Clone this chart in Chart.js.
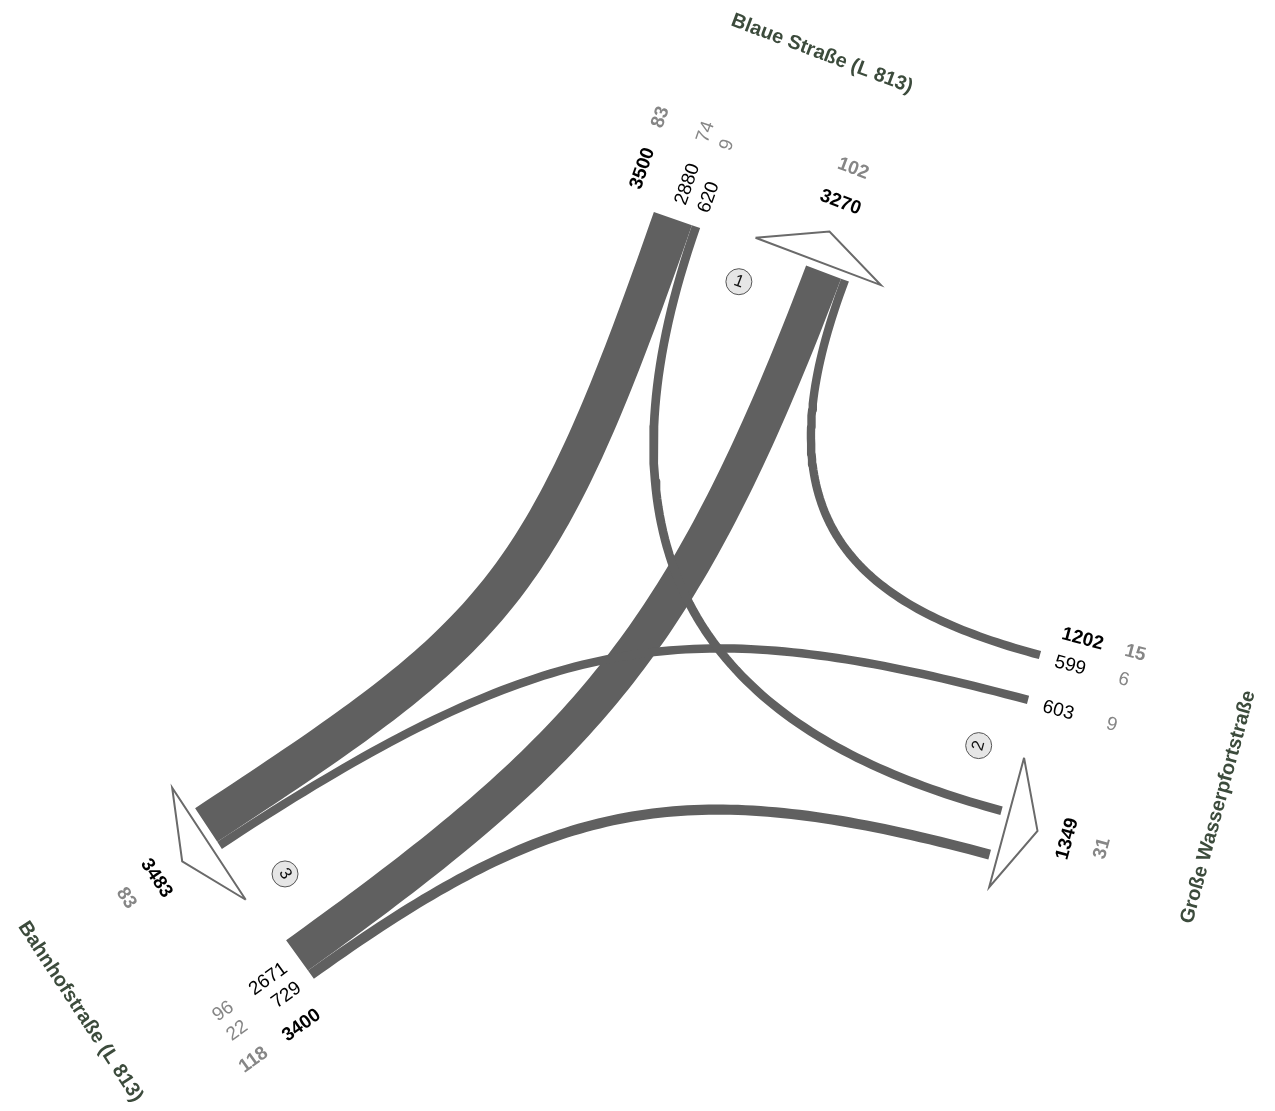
<!DOCTYPE html>
<html>
<head>
<meta charset="utf-8">
<script src="https://cdn.jsdelivr.net/npm/chart.js@4.4.0/dist/chart.umd.min.js"></script>
<style>
  html, body { margin: 0; padding: 0; background: #fff; }
  canvas { display: block; }
</style>
</head>
<body>
<canvas id="chart" width="1275" height="1111"></canvas>
<script>
/* global Chart */

// arms of the junction
var armNames = ['Blaue Straße (L 813)', 'Große Wasserpfortstraße', 'Bahnhofstraße (L 813)']
var armNumbers = ['1', '2', '3']

// turning flows: from arm, to arm, all vehicles, heavy vehicles
var flowFrom = [0, 0, 1, 1, 2, 2]
var flowTo = [2, 1, 0, 2, 1, 0]
var flowCars = [2880, 620, 599, 603, 729, 2671]
var flowHeavy = [74, 9, 6, 9, 22, 96]

// layout: where each arm's entry / exit stack sits and which way it points (degrees, screen coords)
var k = 0.014 // px per vehicle
var armLayout = [
  { inX: 677, inY: 220, inAngle: -70.75, inGap: 0, outX: 827.5, outY: 273.5, outAngle: -69.3, outGap: 0, nameOut: 205 },
  { inX: 1034, inY: 677.5, inAngle: 14.9, inGap: 38, outX: 995.5, outY: 833, outAngle: 15.1, outGap: 36, nameOut: 210 },
  { inX: 300, inY: 959.5, inAngle: 144.3, inGap: 0, outX: 208.5, outY: 828.5, outAngle: 146.7, outGap: 0, nameOut: 210 }
]
// control lengths of each ribbon (start, end)
var bend = [[400, 350], [400, 250], [200, 250], [350, 400], [300, 320], [350, 400]]

var flowColor = '#606060'
var greyText = '#868686'
var nameColor = '#3c4b3c'

function frame (x, y, deg) {
  var r = deg * Math.PI / 180
  var n = { x: Math.cos(r), y: Math.sin(r) }
  return { x: x, y: y, n: n, u: { x: -n.y, y: n.x }, deg: deg }
}
function at (f, along, out) {
  return { x: f.x + f.u.x * along + f.n.x * out, y: f.y + f.u.y * along + f.n.y * out }
}
// the arm "two steps round" comes first in every stack
function rank (a, b) { return (b - a + 3) % 3 === 2 ? 0 : 1 }
function stack (flows, gap) {
  var widths = flows.map(function (i) { return flowCars[i] * k })
  var total = widths.reduce(function (s, w) { return s + w }, 0) + gap * (flows.length - 1)
  var pos = -total / 2
  var res = {}
  flows.forEach(function (i, j) { res[i] = pos + widths[j] / 2; pos += widths[j] + gap })
  return res
}

var idx = flowCars.map(function (v, i) { return i })
var arms = armLayout.map(function (l, a) {
  var ins = idx.filter(function (i) { return flowFrom[i] === a }).sort(function (i, j) { return rank(a, flowTo[i]) - rank(a, flowTo[j]) })
  var outs = idx.filter(function (i) { return flowTo[i] === a }).sort(function (i, j) { return rank(a, flowFrom[i]) - rank(a, flowFrom[j]) })
  return {
    inF: frame(l.inX, l.inY, l.inAngle),
    outF: frame(l.outX, l.outY, l.outAngle),
    ins: ins,
    outs: outs,
    inSlots: stack(ins, l.inGap),
    outSlots: stack(outs, l.outGap),
    nameOut: l.nameOut
  }
})

function ribbon (i) {
  var A = arms[flowFrom[i]]
  var B = arms[flowTo[i]]
  var p0 = at(A.inF, A.inSlots[i], 0)
  var p3 = at(B.outF, B.outSlots[i], 0)
  var p1 = { x: p0.x - A.inF.n.x * bend[i][0], y: p0.y - A.inF.n.y * bend[i][0] }
  var p2 = { x: p3.x - B.outF.n.x * bend[i][1], y: p3.y - B.outF.n.y * bend[i][1] }
  var pts = []
  for (var s = 0; s <= 90; s++) {
    var t = s / 90
    var m = 1 - t
    pts.push({
      x: m * m * m * p0.x + 3 * m * m * t * p1.x + 3 * m * t * t * p2.x + t * t * t * p3.x,
      y: m * m * m * p0.y + 3 * m * m * t * p1.y + 3 * m * t * t * p2.y + t * t * t * p3.y
    })
  }
  return pts
}

var datasets = []
idx.forEach(function (i) {
  datasets.push({
    data: ribbon(i),
    showLine: true,
    borderColor: flowColor,
    borderWidth: flowCars[i] * k,
    borderCapStyle: 'butt',
    borderJoinStyle: 'round',
    tension: 0,
    pointRadius: 0,
    fill: false
  })
})
// exit arrows
arms.forEach(function (A) {
  var f = A.outF
  datasets.push({
    data: [at(f, -80, 8), at(f, -13, 40), at(f, 54, 8), at(f, -80, 8)],
    showLine: true,
    borderColor: '#6a6a6a',
    borderWidth: 2,
    borderJoinStyle: 'miter',
    tension: 0,
    pointRadius: 0,
    fill: false
  })
})
// numbered circles
datasets.push({
  data: arms.map(function (A) { return at(A.outF, -80, -39) }),
  showLine: false,
  pointRadius: 13,
  pointBackgroundColor: '#e6e6e6',
  pointBorderColor: '#555',
  pointBorderWidth: 1
})

function upright (deg) {
  while (deg > 90) deg -= 180
  while (deg <= -90) deg += 180
  return deg
}

var labelPlugin = {
  id: 'flowLabels',
  afterDatasetsDraw: function (chart) {
    var ctx = chart.ctx
    var xs = chart.scales.x
    var ys = chart.scales.y
    function put (text, p, deg, font, color, shift) {
      var r = upright(deg) * Math.PI / 180
      var x = xs.getPixelForValue(p.x) - Math.sin(r) * (shift || 0)
      var y = ys.getPixelForValue(p.y) + Math.cos(r) * (shift || 0)
      ctx.save()
      ctx.translate(x, y)
      ctx.rotate(r)
      ctx.font = font
      ctx.fillStyle = color
      ctx.textAlign = 'center'
      ctx.textBaseline = 'middle'
      ctx.fillText(text, 0, 0)
      ctx.restore()
    }
    function width (text, font) { ctx.font = font; return ctx.measureText(text).width }
    // text reading along the flow, starting "near" px from the stack
    function nearText (f, along, near, text, font, color) {
      var w = width(text, font)
      put(text, at(f, along, near + w / 2), f.deg, font, color, 2.5)
    }
    var reg = '19px "Liberation Sans", Arial, sans-serif'
    var bold = 'bold 19px "Liberation Sans", Arial, sans-serif'

    arms.forEach(function (A, a) {
      var inTotal = 0
      var inHeavy = 0
      A.ins.forEach(function (i) {
        inTotal += flowCars[i]
        inHeavy += flowHeavy[i]
        nearText(A.inF, A.inSlots[i], 16, String(flowCars[i]), reg, '#000')
        nearText(A.inF, A.inSlots[i], 82, String(flowHeavy[i]), reg, greyText)
      })
      nearText(A.inF, -52, 16, String(inTotal), bold, '#000')
      nearText(A.inF, -52, 81, String(inHeavy), bold, greyText)

      var outTotal = 0
      var outHeavy = 0
      A.outs.forEach(function (i) { outTotal += flowCars[i]; outHeavy += flowHeavy[i] })
      var ud = A.outF.deg + 90
      put(String(outTotal), at(A.outF, -13, 71), ud, bold, '#000')
      put(String(outHeavy), at(A.outF, -13, 107), ud, bold, greyText)

      // circle number
      put(armNumbers[a], at(A.outF, -80, -39), ud, '17px "Liberation Sans", Arial, sans-serif', '#111', 0)

      // arm name, centred between entry and exit
      var mid = frame((A.inF.x + A.outF.x) / 2, (A.inF.y + A.outF.y) / 2, A.outF.deg)
      put(armNames[a], at(mid, -3, A.nameOut), ud, 'bold 20px "Liberation Sans", Arial, sans-serif', nameColor, 0)
    })
  }
}

var chart = new Chart(document.getElementById('chart'), {
  type: 'scatter',
  data: { datasets: datasets },
  options: {
    responsive: false,
    animation: false,
    layout: { padding: 0, autoPadding: false },
    plugins: { legend: { display: false }, tooltip: { enabled: false } },
    scales: {
      x: { type: 'linear', min: 0, max: 1275, display: false },
      y: { type: 'linear', min: 0, max: 1111, reverse: true, display: false }
    }
  },
  plugins: [labelPlugin]
})
</script>
</body>
</html>
